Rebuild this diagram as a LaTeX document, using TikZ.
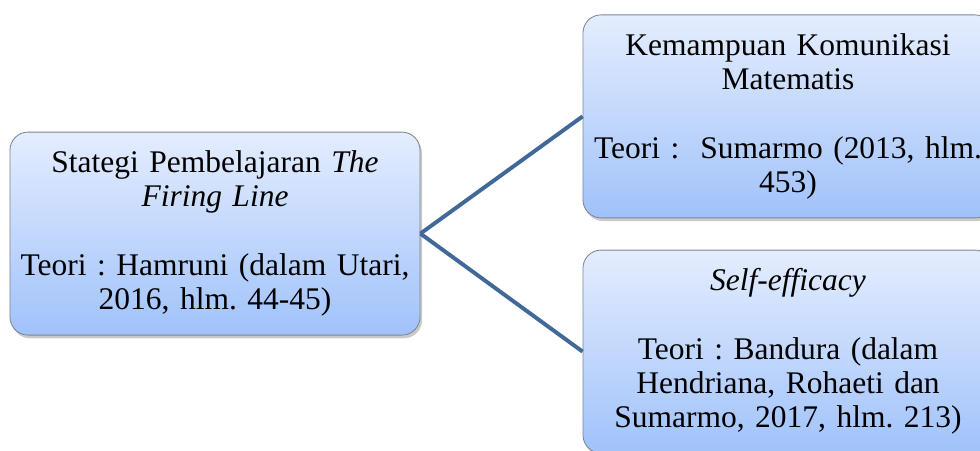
\documentclass[tikz,border=0pt]{standalone}
\usepackage{fontspec}
\setmainfont{Liberation Serif}
\usepackage{xcolor}
\usepackage{tikz}
\usetikzlibrary{shadows,positioning}
\definecolor{boxtop}{RGB}{228,237,254}
\definecolor{boxbottom}{RGB}{160,194,250}
\definecolor{boxline}{RGB}{125,133,145}
\definecolor{linkcol}{RGB}{66,104,152}

\begin{document}
\begin{tikzpicture}[
      box/.style={rectangle,rounded corners=0.45cm,draw=boxline,line width=0.6pt,
        top color=boxtop,bottom color=boxbottom,
        minimum width=10.25cm,minimum height=5.075cm,text width=9.9cm,align=center,
        font=\fontsize{22.4}{24.4}\selectfont\frenchspacing,
        drop shadow={shadow xshift=0.05cm,shadow yshift=-0.08cm,opacity=0.35,fill=black!60}},
      link/.style={draw=linkcol,line width=2.8pt}
    ]
      \useasboundingbox (0,0) rectangle (24.5,11.25);
      % Left box (strategy)
      \node[box] (strategi) at (5.375,5.41) {Stategi Pembelajaran \textit{The}\\ \textit{Firing Line}\\[24.4pt] Teori : Hamruni (dalam Utari,\\ 2016, hlm. 44-45)};
      % Right boxes (variables)
      \node[box] (komunikasi) at (19.7,8.34) {Kemampuan Komunikasi\\ Matematis\\[24.4pt] Teori :\ \ Sumarmo (2013, hlm.\\ 453)};
      \node[box] (efficacy) at (19.7,2.46) {\textit{Self-efficacy}\\[24.4pt] Teori : Bandura (dalam\\ Hendriana, Rohaeti dan\\ Sumarmo, 2017, hlm. 213)};
      % Connectors
      \draw[link] (strategi.east) -- (komunikasi.west);
      \draw[link] (strategi.east) -- (efficacy.west);
    \end{tikzpicture}
\end{document}
